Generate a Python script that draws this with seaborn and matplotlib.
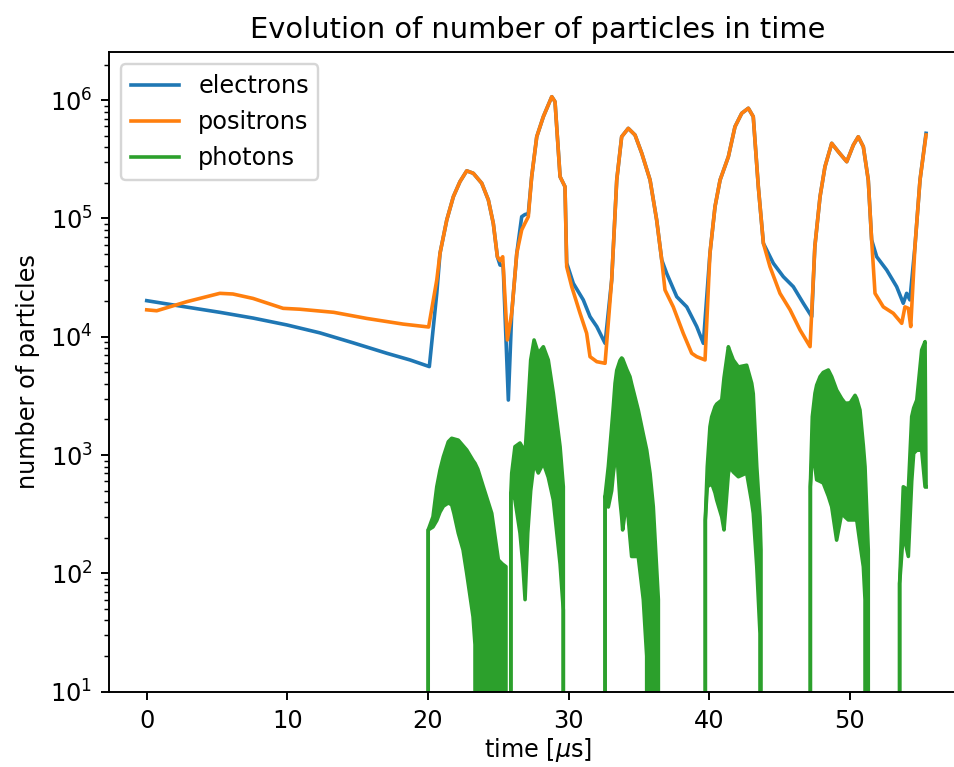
import numpy as np
import pandas as pd
import matplotlib
matplotlib.use("Agg")
import matplotlib.pyplot as plt
import seaborn as sns

# --- simulation output: particle counts vs. time [us] ---
e_time = [0.00, 2.37, 5.20, 7.56, 9.96, 12.31, 14.67, 17.07, 18.73, 20.10,
          20.63, 20.86, 21.34, 21.81, 22.28, 22.76, 23.23, 23.83, 24.30, 24.65,
          24.94, 25.13, 25.35, 25.72, 25.96, 26.32, 26.67, 26.90, 27.14, 27.38,
          27.74, 28.21, 28.81, 29.04, 29.40, 29.75, 29.87, 30.34, 31.05, 31.53,
          32.01, 32.60, 33.07, 33.43, 33.78, 34.25, 34.73, 35.21, 35.80, 36.27,
          36.63, 36.98, 37.70, 38.41, 39.12, 39.59, 40.06, 40.42, 40.78, 41.37,
          41.84, 42.32, 42.79, 43.14, 43.50, 43.86, 44.57, 45.28, 45.99, 46.70,
          47.30, 47.52, 47.89, 48.24, 48.72, 49.19, 49.79, 50.26, 50.61, 50.97,
          51.32, 51.56, 51.92, 52.63, 53.34, 53.81, 54.05, 54.28, 54.64, 55.00,
          55.43]
electrons = [20200, 18200, 16100, 14400, 12600, 10800, 8900, 7260, 6370, 5600,
             23300, 50800, 97100, 153000, 205000, 253000, 241000, 198500, 143300, 91000,
             47500, 40400, 40000, 2920, 15800, 50800, 103500, 108000, 110000, 225500,
             491000, 726000, 1071000, 971000, 225500, 185700, 42000, 28300, 20500, 14800,
             12200, 8810, 30200, 211500, 491000, 578000, 508000, 356000, 211500, 97100,
             44600, 34400, 21800, 17900, 12200, 8810, 50800, 126000, 211500, 333000,
             597000, 775000, 855000, 726000, 185700, 61700, 41800, 32200, 26500, 19200,
             14800, 57800, 153000, 274000, 432000, 367000, 302000, 418000, 491000, 404000,
             211500, 65800, 47500, 36700, 26500, 19200, 23300, 20500, 57800, 211500,
             525000]

p_time = [0.00, 0.71, 2.85, 5.20, 6.13, 7.56, 9.70, 10.90, 13.30, 15.64,
          18.24, 20.05, 20.63, 20.86, 21.34, 21.81, 22.28, 22.76, 23.23, 23.83,
          24.30, 24.65, 24.94, 25.13, 25.32, 25.65, 25.96, 26.32, 26.67, 26.90,
          27.14, 27.38, 27.74, 28.21, 28.81, 29.04, 29.40, 29.75, 29.87, 30.23,
          30.82, 31.29, 31.53, 32.01, 32.60, 33.07, 33.43, 33.78, 34.25, 34.73,
          35.21, 35.80, 36.27, 36.63, 36.86, 37.45, 38.16, 38.76, 39.12, 39.71,
          40.06, 40.42, 40.78, 41.37, 41.84, 42.32, 42.79, 43.14, 43.50, 43.86,
          44.33, 45.04, 45.76, 46.47, 47.18, 47.52, 47.89, 48.24, 48.72, 49.19,
          49.79, 50.26, 50.61, 50.97, 51.32, 51.56, 51.80, 52.39, 53.10, 53.70,
          53.93, 54.17, 54.34, 54.64, 55.00, 55.43]
positrons = [16900, 16600, 19800, 23300, 23000, 21100, 17400, 17100, 16100, 14300,
             12800, 12100, 30200, 50800, 97100, 153000, 205000, 253000, 241000, 198500,
             143300, 91000, 47500, 44000, 47500, 9400, 15800, 50800, 80000, 91000,
             103500, 225500, 491000, 726000, 1071000, 971000, 225500, 185700, 39100, 26500,
             15800, 10700, 6790, 6160, 5970, 30200, 211500, 491000, 578000, 508000,
             356000, 211500, 97100, 44600, 24900, 17900, 10700, 7260, 6790, 6370,
             50800, 126000, 211500, 333000, 597000, 775000, 855000, 726000, 185700, 61700,
             39100, 23300, 16900, 11400, 8250, 57800, 153000, 274000, 432000, 367000,
             302000, 418000, 491000, 404000, 211500, 65800, 23300, 17900, 15800, 13000,
             17900, 17400, 12200, 57800, 211500, 508000]

# photon counts oscillate rapidly; kept as upper / lower envelope of the signal
ph_time = [20.00, 20.02, 20.36, 20.63, 20.86, 21.10, 21.45, 21.69, 21.85, 22.16,
           22.50, 22.76, 23.21, 23.35, 23.55, 23.94, 24.54, 25.01, 25.30, 25.55,
           25.65,
           25.84, 25.90, 25.96, 26.19, 26.55, 26.75, 26.91, 27.10, 27.31, 27.55,
           27.85, 28.21, 28.56, 28.92, 29.40, 29.63, 29.75,
           32.57, 32.60, 32.83, 33.07, 33.19, 33.31, 33.43, 33.66, 33.78, 33.85,
           34.14, 34.37, 34.49, 34.96, 35.32, 35.56, 35.80, 36.03, 36.39, 36.55,
           39.71, 39.73, 39.87, 40.06, 40.18, 40.42, 40.54, 40.90, 41.06, 41.37,
           41.49, 41.72, 42.08, 42.67, 43.03, 43.14, 43.39, 43.62, 43.69, 43.86,
           47.18, 47.20, 47.34, 47.53, 47.65, 47.89, 48.12, 48.48, 48.72, 49.07,
           49.43, 49.67, 49.90, 50.02, 50.38, 50.50, 50.73, 50.97, 51.09, 51.32,
           51.52,
           53.53, 53.55, 53.81, 54.17, 54.41, 54.55, 54.77, 55.12, 55.36, 55.43]
ph_upper = [0, 233, 301, 540, 748, 969, 1297, 1387, 1370, 1338,
            1200, 1105, 900, 853, 760, 540, 322, 130, 120, 114,
            0,
            0, 479, 702, 1178, 1265, 1150, 1035, 2404, 6370, 9400,
            7260, 8240, 6370, 3330, 1178, 540, 0,
            0, 450, 798, 1738, 2600, 4045, 5200, 6300, 6620, 6500,
            5300, 4600, 4000, 2404, 1500, 1105, 700, 366, 60, 0,
            0, 283, 798, 1738, 2100, 2560, 2700, 2920, 4500, 8240,
            7500, 6370, 5560, 5750, 4045, 3300, 798, 300, 158, 0,
            0, 540, 2115, 3330, 3900, 4600, 5000, 5240, 4600, 3550,
            3000, 2750, 2750, 2750, 3200, 3000, 2404, 1200, 798, 158,
            0,
            0, 82, 540, 507, 2115, 2500, 2920, 7730, 9100, 540]
ph_lower = [0, 233, 247, 280, 330, 370, 394, 380, 322, 219,
            158, 100, 43, 25, 0, 0, 0, 0, 0, 0,
            0,
            0, 479, 479, 420, 219, 120, 60, 219, 500, 857,
            706, 857, 650, 417, 120, 49, 0,
            0, 450, 364, 500, 706, 900, 1105, 417, 300, 233,
            417, 200, 139, 139, 60, 20, 0, 0, 0, 0,
            0, 283, 540, 560, 580, 480, 417, 300, 233, 700,
            798, 720, 656, 706, 400, 322, 114, 31, 0, 0,
            0, 540, 1035, 800, 618, 600, 580, 450, 366, 191,
            322, 300, 283, 283, 283, 283, 180, 114, 60, 0,
            0,
            0, 82, 219, 139, 600, 1035, 1100, 1100, 540, 540]

species = ["electrons", "positrons", "photons"]
colors = ["#1f77b4", "#ff7f0e", "#2ca02c"]

df = pd.concat([
    pd.DataFrame({"time": e_time, "count": electrons, "species": "electrons"}),
    pd.DataFrame({"time": p_time, "count": positrons, "species": "positrons"}),
    pd.DataFrame({"time": ph_time, "count": ph_upper, "species": "photons"}),
], ignore_index=True)

DPI = 173
fig = plt.figure(figsize=(954 / DPI, 767 / DPI), dpi=DPI)
# the axes run slightly past the right edge of the canvas
ax = fig.add_axes([0.1146, 0.0982, 0.8984, 0.8336])
ax.set_yscale("log")

with np.errstate(divide="ignore", invalid="ignore"):
    sns.lineplot(data=df, x="time", y="count", hue="species", hue_order=species,
                 palette=dict(zip(species, colors)), estimator=None, sort=False,
                 linewidth=1.5, ax=ax)
    sns.lineplot(x=ph_time, y=ph_lower, color=colors[2], estimator=None,
                 sort=False, linewidth=1.5, legend=False, ax=ax)
ax.fill_between(ph_time, ph_lower, ph_upper, color=colors[2], linewidth=0)

ax.set_xlim(-2.66, 58.3)
ax.set_ylim(10, 2.54e6)
ax.spines["right"].set_visible(False)
ax.set_title("Evolution of number of particles in time")
ax.set_xlabel(r"time [$\mu$s]", labelpad=1.5)
ax.set_ylabel("number of particles")
sns.move_legend(ax, "upper left", title=None)

fig.savefig("out.png", dpi=DPI)
